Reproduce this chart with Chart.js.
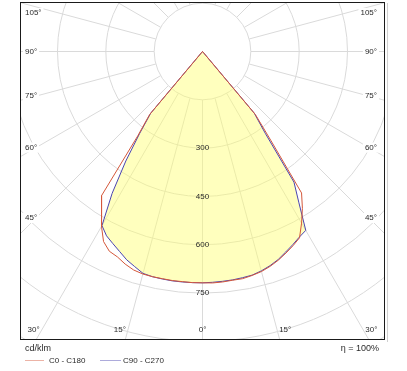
<!DOCTYPE html>
<html>
<head>
<meta charset="utf-8">
<script src="https://cdn.jsdelivr.net/npm/chart.js@4.4.1/dist/chart.umd.min.js"></script>
<style>
  html, body { margin: 0; padding: 0; background: #fff; }
  #wrap { width: 407px; height: 371px; }
</style>
</head>
<body>
<div id="wrap"><canvas id="polar" width="407" height="371"></canvas></div>
<script>
// Gamma angles (deg from nadir) shared by every half-plane
const gammaAngles = [0, 2.5, 5, 7.5, 10, 12.5, 15, 17.5, 20, 22.5, 25, 27.5, 30, 32.5, 35, 37.5, 40, 42.5, 45];

// Luminous intensity in cd/klm
const c0Values   = [718, 719, 718, 716, 716, 712, 707, 699, 689, 677, 665, 652, 615, 577, 536, 350, 255, 0, 0];
const c180Values = [718, 718, 717, 717, 716, 716, 715, 711, 702, 690, 684, 665, 628, 582, 546, 330, 255, 0, 0];
const c90Values  = [718, 717, 716, 715, 713, 711, 705, 697, 687, 674, 662, 650, 641, 557, 495, 320, 250, 0, 0];
const c270Values = [718, 718, 718, 718, 717, 716, 713, 700, 688, 672, 658, 645, 624, 522, 415, 320, 250, 0, 0];

// Grid rings and the ones that get a value label
const ringValues = [150, 300, 450, 600, 750, 900, 1050, 1200];
const ringLabels = [300, 450, 600, 750];
const angleTicks = [0, 15, 30, 45, 60, 75, 90, 105];

const seriesNames = ['C0 - C180', 'C90 - C270'];
const unitLabel = 'cd/klm';
const efficiencyLabel = '\u03b7 = 100%';

const FONT = '8px "Liberation Sans", Arial, sans-serif';
const FONT_BIG = '9px "Liberation Sans", Arial, sans-serif';
const TEXT = '#2a2a2a';

// polar (gamma, I) -> cartesian, nadir pointing down
function halfPlane(values, side) {
    return gammaAngles.map((g, i) => {
        const rad = g * Math.PI / 180;
        return { x: side * values[i] * Math.sin(rad), y: -values[i] * Math.cos(rad) };
    });
}

function curve(left, right) {
    return halfPlane(left, -1).reverse().concat(halfPlane(right, 1));
}

function drawLabel(ctx, text, x, y, align, bg) {
    ctx.textAlign = align;
    if (bg) {
        const w = ctx.measureText(text).width;
        const x0 = align === 'left' ? x : align === 'right' ? x - w : x - w / 2;
        ctx.fillStyle = '#fff';
        ctx.fillRect(x0 - 2, y - 5, w + 4, 10);
    }
    ctx.fillStyle = TEXT;
    ctx.fillText(text, x, y);
}

const polarGrid = {
    id: 'polarGrid',
    beforeDatasetsDraw(chart) {
        const { ctx, chartArea: a, scales: { x, y } } = chart;
        const cx = x.getPixelForValue(0), cy = y.getPixelForValue(0);
        const k = x.getPixelForValue(1) - cx;

        ctx.save();
        ctx.beginPath();
        ctx.rect(a.left, a.top, a.right - a.left, a.bottom - a.top);
        ctx.clip();

        ctx.strokeStyle = '#dadada';
        ctx.lineWidth = 1;
        ringValues.forEach(v => {
            ctx.beginPath();
            ctx.arc(cx, cy, v * k, 0, Math.PI * 2);
            ctx.stroke();
        });

        // spokes every 15 deg, starting at the first ring
        const r0 = ringValues[0] * k, r1 = 1400 * k;
        for (let d = 0; d < 360; d += 15) {
            const t = d * Math.PI / 180;
            const sx = Math.sin(t), sy = Math.cos(t);
            ctx.beginPath();
            ctx.moveTo(cx + sx * r0, cy + sy * r0);
            ctx.lineTo(cx + sx * r1, cy + sy * r1);
            ctx.stroke();
        }

        // angle labels where spokes leave the frame
        ctx.font = FONT;
        ctx.textBaseline = 'middle';
        angleTicks.forEach(deg => {
            const sides = deg === 0 ? [0] : [-1, 1];
            sides.forEach(side => {
                const t = deg * Math.PI / 180;
                const dx = side * Math.sin(t), dy = Math.cos(t);
                const text = deg + '\u00b0';
                if (deg === 0) {
                    drawLabel(ctx, text, cx, a.bottom - 10, 'center', false);
                    return;
                }
                const edgeX = side < 0 ? a.left : a.right;
                const tSide = (edgeX - cx) / dx;
                const tVert = dy > 1e-9 ? (a.bottom - cy) / dy : dy < -1e-9 ? (a.top - cy) / dy : Infinity;
                if (tSide <= tVert) {
                    const lx = side < 0 ? a.left + 16 : a.right - 16;
                    const ly = Math.max(cy + dy * (lx - cx) / dx, a.top + 11);
                    drawLabel(ctx, text, side < 0 ? a.left + 5 : a.right - 8, ly, side < 0 ? 'left' : 'right', true);
                } else if (dy > 0) {
                    const ly = a.bottom - 10;
                    const lx = cx + dx * (ly - cy) / dy;
                    drawLabel(ctx, text, lx + side * 2, ly, side < 0 ? 'right' : 'left', false);
                }
            });
        });
        ctx.restore();
    },
    afterDatasetsDraw(chart) {
        const { ctx, scales: { x, y } } = chart;
        const cx = x.getPixelForValue(0);
        ctx.save();
        ctx.font = FONT;
        ctx.textBaseline = 'middle';
        ringLabels.forEach(v => {
            drawLabel(ctx, String(v), cx, y.getPixelForValue(-v), 'center', false);
        });
        ctx.restore();
    },
    afterDraw(chart) {
        const { ctx, chartArea: a } = chart;
        ctx.save();
        // frame with a faint shadow on the right
        ctx.strokeStyle = '#d0d0d0';
        ctx.beginPath();
        ctx.moveTo(a.right + 2.5, a.top + 1);
        ctx.lineTo(a.right + 2.5, a.bottom + 2);
        ctx.stroke();
        ctx.strokeStyle = '#1a1a1a';
        ctx.lineWidth = 1;
        ctx.strokeRect(a.left + 0.5, a.top + 0.5, a.right - a.left - 1, a.bottom - a.top - 1);

        // legend
        ctx.font = FONT_BIG;
        ctx.textBaseline = 'middle';
        ctx.fillStyle = TEXT;
        ctx.textAlign = 'left';
        ctx.fillText(unitLabel, a.left + 5, a.bottom + 9);
        ctx.textAlign = 'right';
        ctx.fillText(efficiencyLabel, a.right - 6, a.bottom + 9);

        ctx.font = FONT;
        const slots = [{ x0: a.left + 5, x1: a.left + 24, tx: a.left + 29 },
                       { x0: a.left + 80, x1: a.left + 101, tx: a.left + 103 }];
        chart.data.datasets.forEach((ds, i) => {
            const s = slots[i];
            const ly = a.bottom + 20.5;
            ctx.globalAlpha = 0.45;
            ctx.strokeStyle = ds.borderColor;
            ctx.beginPath();
            ctx.moveTo(s.x0, ly);
            ctx.lineTo(s.x1, ly);
            ctx.stroke();
            ctx.globalAlpha = 1;
            ctx.fillStyle = TEXT;
            ctx.textAlign = 'left';
            ctx.fillText(ds.label, s.tx, ly);
        });
        ctx.restore();
    }
};

new Chart(document.getElementById('polar'), {
    type: 'scatter',
    data: {
        datasets: [
            {
                label: seriesNames[0],
                data: curve(c180Values, c0Values),
                showLine: true,
                borderColor: '#d4573a',
                borderWidth: 1,
                pointRadius: 0,
                tension: 0,
                fill: false,
                order: 1
            },
            {
                label: seriesNames[1],
                data: curve(c270Values, c90Values),
                showLine: true,
                borderColor: '#4a44b0',
                backgroundColor: 'rgba(255, 255, 110, 0.45)',
                borderWidth: 1,
                pointRadius: 0,
                tension: 0,
                fill: 'shape',
                order: 2
            }
        ]
    },
    options: {
        responsive: false,
        animation: false,
        devicePixelRatio: 1,
        layout: { padding: { left: 20, top: 2, right: 22, bottom: 31 } },
        scales: {
            x: { type: 'linear', display: false, min: -566.4, max: 566.4 },
            y: { type: 'linear', display: false, min: -895.4, max: 153.6 }
        },
        plugins: {
            legend: { display: false },
            tooltip: { enabled: false }
        }
    },
    plugins: [polarGrid]
});
</script>
</body>
</html>
